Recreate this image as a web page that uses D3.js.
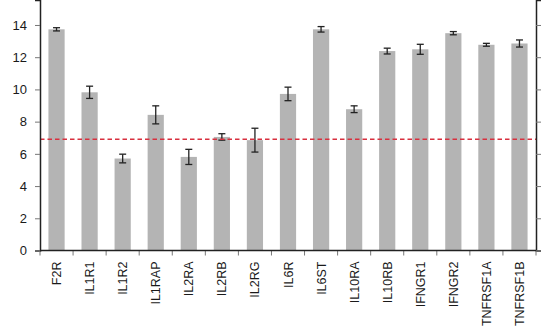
<!DOCTYPE html>
<html>
<head>
<meta charset="utf-8">
<script src="https://cdn.jsdelivr.net/npm/d3@7"></script>
<style>
  body { margin: 0; background: #fff; }
  text { font-family: "Liberation Sans", Arial, sans-serif; fill: #1a1a1a; }
</style>
</head>
<body>
<svg id="chart" width="541" height="328"></svg>
<script>
// gene names along the x axis
var genes = ["F2R", "IL1R1", "IL1R2", "IL1RAP", "IL2RA", "IL2RB", "IL2RG", "IL6R",
             "IL6ST", "IL10RA", "IL10RB", "IFNGR1", "IFNGR2", "TNFRSF1A", "TNFRSF1B"];
// bar heights and error bar half-widths
var means = [13.73, 9.82, 5.71, 8.42, 5.81, 7.05, 6.85, 9.72, 13.73, 8.77, 12.38, 12.49, 13.49, 12.77, 12.85];
var errs  = [0.10, 0.38, 0.27, 0.56, 0.47, 0.20, 0.74, 0.42, 0.17, 0.21, 0.18, 0.31, 0.10, 0.09, 0.22];
var yTicks = [0, 2, 4, 6, 8, 10, 12, 14];
var threshold = 6.91;

(function(){
var svg = d3.select("#chart");
var mLeft = 40, mRight = 536, mTop = 0, mBottom = 250.5;

var x = d3.scaleBand().domain(genes).range([mLeft, mRight]).paddingInner(0.51).paddingOuter(0.255);
var xb = d3.scaleBand().domain(genes).range([mLeft, mRight]);
var y = d3.scaleLinear().domain([0, 15.55]).range([mBottom, mTop]);

// bars
svg.selectAll("rect.bar").data(genes).enter().append("rect")
    .attr("class", "bar")
    .attr("x", function(d){ return x(d); })
    .attr("width", x.bandwidth())
    .attr("y", function(d, i){ return y(means[i]); })
    .attr("height", function(d, i){ return y(0) - y(means[i]); })
    .style("fill", "#b4b4b4");

// error bars
var eb = svg.selectAll("g.err").data(genes).enter().append("g")
    .attr("class", "err")
    .attr("transform", function(d){ return "translate(" + (x(d) + x.bandwidth() / 2) + ",0)"; });
eb.append("line")
    .attr("y1", function(d, i){ return y(means[i] + errs[i]); })
    .attr("y2", function(d, i){ return y(means[i] - errs[i]); });
eb.append("line").attr("x1", -3.5).attr("x2", 3.5)
    .attr("y1", function(d, i){ return y(means[i] + errs[i]); })
    .attr("y2", function(d, i){ return y(means[i] + errs[i]); });
eb.append("line").attr("x1", -3.5).attr("x2", 3.5)
    .attr("y1", function(d, i){ return y(means[i] - errs[i]); })
    .attr("y2", function(d, i){ return y(means[i] - errs[i]); });
eb.selectAll("line").style("stroke", "#222").style("stroke-width", 1.3);

// threshold line
svg.append("line")
    .attr("x1", mLeft).attr("x2", mRight)
    .attr("y1", y(threshold)).attr("y2", y(threshold))
    .style("stroke", "#d8303f")
    .style("stroke-width", 1.5)
    .style("stroke-dasharray", "4.5,3");

// left axis
var yAxis = svg.append("g").attr("transform", "translate(" + mLeft + ",0)")
    .call(d3.axisLeft(y).tickValues(yTicks).tickSize(5).tickPadding(8));
yAxis.selectAll("text").style("font-size", "13px").style("fill", "#1a1a1a");

// right axis (ticks only)
svg.append("g").attr("transform", "translate(" + mRight + ",0)")
    .call(d3.axisRight(y).tickValues(yTicks).tickSize(5).tickFormat(""));

// bottom axis, ticks at band boundaries
var xAxis = svg.append("g").attr("transform", "translate(0," + mBottom + ")");
xAxis.selectAll("line.tk").data(genes.concat(["end"])).enter().append("line")
    .attr("class", "tk")
    .attr("x1", function(d, i){ return mLeft + i * xb.bandwidth(); })
    .attr("x2", function(d, i){ return mLeft + i * xb.bandwidth(); })
    .attr("y1", 0).attr("y2", 5)
    .style("stroke", "#777");
xAxis.append("line").attr("x1", mLeft).attr("x2", mRight)
    .style("stroke", "#222").style("stroke-width", 1.5);
xAxis.selectAll("text").data(genes).enter().append("text")
    .attr("transform", function(d){ return "translate(" + (xb(d) + xb.bandwidth() / 2 + 4.5) + ",11) rotate(-90)"; })
    .attr("text-anchor", "end")
    .style("font-size", "12.5px")
    .text(function(d){ return d; });

svg.selectAll(".domain").style("stroke", "#222").style("stroke-width", 1.5);
svg.selectAll(".tick line").style("stroke", "#777");
})();
</script>
</body>
</html>
